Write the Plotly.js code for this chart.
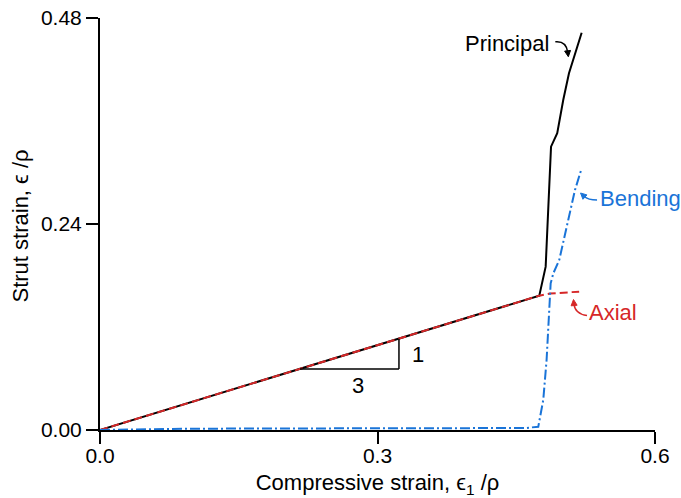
<!DOCTYPE html>
<html>
<head>
<meta charset="utf-8">
<script src="https://cdn.plot.ly/plotly-3.0.1.min.js"></script>
<style>html,body{margin:0;padding:0;background:#fff;}#chart{width:681px;height:498px;}</style>
</head>
<body>
<div id="chart"></div>
<script>
// Data
const principalX = [0, 0.4749, 0.4818, 0.4876, 0.4943, 0.5008, 0.5070, 0.5207];
const principalY = [0, 0.1565, 0.1903, 0.3301, 0.3457, 0.3845, 0.4156, 0.4629];

const axialX = [0, 0.4749, 0.4865, 0.5180];
const axialY = [0, 0.1565, 0.1590, 0.1612];

const bendingX = [0, 0.10, 0.20, 0.30, 0.40, 0.4600, 0.4738, 0.4792, 0.4828, 0.4857, 0.4872, 0.4901, 0.4965, 0.5062, 0.5135, 0.5207];
const bendingY = [0, 0.0015, 0.0018, 0.0020, 0.0022, 0.0023, 0.0038, 0.0350, 0.0816, 0.1320, 0.1709, 0.1826, 0.1981, 0.2447, 0.2796, 0.3049];

const xTickVals = [0, 0.3, 0.6];
const xTickText = ['0.0', '0.3', '0.6'];
const yTickVals = [0, 0.24, 0.48];
const yTickText = ['0.00', '0.24', '0.48'];

const FONT = 'Liberation Sans, Arial, Helvetica, sans-serif';
const RED = '#d62728';
const BLUE = '#1a74d8';

const traces = [
  {x: principalX, y: principalY, mode: 'lines', line: {color: '#000', width: 2}, hoverinfo: 'skip'},
  {x: axialX, y: axialY, mode: 'lines', line: {color: RED, width: 2, dash: '8px,4px'}, hoverinfo: 'skip'},
  {x: bendingX, y: bendingY, mode: 'lines', line: {color: BLUE, width: 2, dash: '10px,3px,2px,3px'}, hoverinfo: 'skip'}
];

function arrowShapes(ax, ay, curve, head, color) {
  return [
    {type: 'path', xref: 'x', yref: 'y', xsizemode: 'pixel', ysizemode: 'pixel', xanchor: ax, yanchor: ay,
     path: curve, line: {color: color, width: 1.5}},
    {type: 'path', xref: 'x', yref: 'y', xsizemode: 'pixel', ysizemode: 'pixel', xanchor: ax, yanchor: ay,
     path: head, fillcolor: color, line: {color: color, width: 1}}
  ];
}

const layout = {
  width: 681, height: 498,
  margin: {l: 100, r: 26, t: 18, b: 68},
  showlegend: false,
  paper_bgcolor: '#fff', plot_bgcolor: '#fff',
  font: {family: FONT, size: 21, color: '#000'},
  xaxis: {
    range: [0, 0.6], tickvals: xTickVals, ticktext: xTickText,
    showgrid: false, zeroline: false, showline: true, linecolor: '#000', linewidth: 2,
    ticks: 'outside', ticklen: 12, tickwidth: 2, tickcolor: '#000', ticklabelstandoff: -6,
    tickfont: {family: FONT, size: 21, color: '#000'},
    title: {text: 'Compressive strain, ϵ<sub>1</sub> /ρ', font: {family: FONT, size: 22, color: '#000'}}
  },
  yaxis: {
    range: [0, 0.48], tickvals: yTickVals, ticktext: yTickText,
    showgrid: false, zeroline: false, showline: true, linecolor: '#000', linewidth: 2,
    ticks: 'outside', ticklen: 12, tickwidth: 2, tickcolor: '#000',
    tickfont: {family: FONT, size: 21, color: '#000'}
  },
  shapes: [
    // slope triangle
    {type: 'line', xref: 'x', yref: 'y', x0: 0.2162, y0: 0.0711, x1: 0.3232, y1: 0.0711, line: {color: '#000', width: 1.5}},
    {type: 'line', xref: 'x', yref: 'y', x0: 0.3232, y0: 0.0711, x1: 0.3232, y1: 0.1062, line: {color: '#000', width: 1.5}}
  ].concat(
    arrowShapes(0.5063, 0.4349, 'M -13,15 Q -2,16 -0.6,4.5', 'M 0,0 L 2.2,6.3 L -3.7,5.6 Z', '#000'),
    arrowShapes(0.5195, 0.2761, 'M 16.5,-7 Q 7.5,-7 3.5,-3.2', 'M 0,0 L 6.4,-1.9 L 2.4,-6.3 Z', BLUE),
    arrowShapes(0.5119, 0.1520, 'M 13.5,-16 Q 1.5,-14.5 0.5,-4.5', 'M 0,0 L 3.6,-5.7 L -2.4,-6.3 Z', RED)
  ),
  annotations: [
    {x: -0.1441, y: 0.494, xref: 'paper', yref: 'paper', text: 'Strut strain, ϵ /ρ', textangle: -90, showarrow: false,
     xanchor: 'center', yanchor: 'middle', font: {family: FONT, size: 22, color: '#000'}},
    {x: 0.4400, y: 0.4500, xref: 'x', yref: 'y', text: 'Principal', showarrow: false, font: {family: FONT, size: 22, color: '#000'}},
    {x: 0.5838, y: 0.2700, xref: 'x', yref: 'y', text: 'Bending', showarrow: false, font: {family: FONT, size: 22, color: BLUE}},
    {x: 0.5546, y: 0.1370, xref: 'x', yref: 'y', text: 'Axial', showarrow: false, font: {family: FONT, size: 22, color: RED}},
    {x: 0.3441, y: 0.0874, xref: 'x', yref: 'y', text: '1', showarrow: false, font: {family: FONT, size: 22, color: '#000'}},
    {x: 0.2793, y: 0.0524, xref: 'x', yref: 'y', text: '3', showarrow: false, font: {family: FONT, size: 22, color: '#000'}}
  ]
};

Plotly.newPlot('chart', traces, layout, {staticPlot: true, displayModeBar: false});
</script>
</body>
</html>
